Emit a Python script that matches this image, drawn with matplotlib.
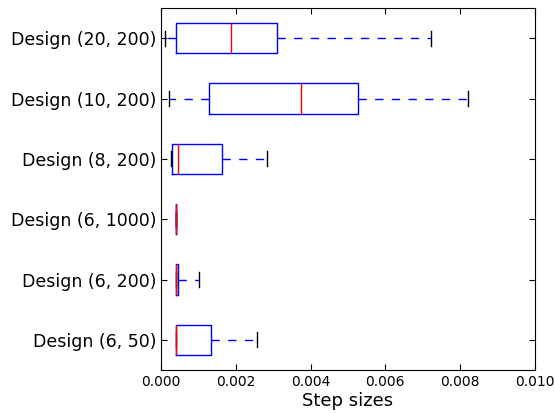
import matplotlib
matplotlib.use('Agg')
import matplotlib.pyplot as plt

# ---------------------------------------------------------------------------
# Datos (estadísticos, de abajo hacia arriba)
# ---------------------------------------------------------------------------
labels  = ['Design (6, 50)', 'Design (6, 200)', 'Design (6, 1000)',
           'Design (8, 200)', 'Design (10, 200)', 'Design (20, 200)']
wh_low  = [0.00040, 0.00039, 0.00039, 0.00027, 0.00022, 0.00011]
q1      = [0.00040, 0.00039, 0.00039, 0.00029, 0.00129, 0.00040]
median  = [0.00040, 0.00039, 0.00039, 0.00046, 0.00374, 0.00186]
q3      = [0.00135, 0.00046, 0.00039, 0.00164, 0.00527, 0.00310]
wh_high = [0.00257, 0.00102, 0.00039, 0.00284, 0.00820, 0.00723]

stats = [
    dict(label=lab, whislo=lo, q1=a, med=m, q3=b, whishi=hi, fliers=[])
    for lab, lo, a, m, b, hi in zip(labels, wh_low, q1, median, q3, wh_high)
]

fig = plt.figure(figsize=(5.54, 4.13), dpi=100)
ax = fig.add_axes([0.2906, 0.104, 0.675, 0.8766])

ax.bxp(
    stats,
    vert=False,
    widths=0.5,
    showfliers=False,
    boxprops=dict(color='blue', linewidth=1),
    whiskerprops=dict(color='blue', linestyle=(0, (6, 6)), linewidth=1),
    capprops=dict(color='black', linewidth=1),
    medianprops=dict(color='red', linewidth=1),
)

ax.set_xlim(0, 0.010)
ax.set_ylim(0.5, 6.5)
ax.set_xticks([0.000, 0.002, 0.004, 0.006, 0.008, 0.010])
ax.set_xticklabels(['0.000', '0.002', '0.004', '0.006', '0.008', '0.010'], fontsize=10)
ax.set_yticklabels(labels, fontsize=12.5)
ax.set_xlabel('Step sizes', fontsize=13, labelpad=2)
ax.tick_params(direction='in', top=True, right=True, length=4)
ax.tick_params(axis='y', pad=3)

plt.savefig('out.png', dpi=100)
plt.close('all')
